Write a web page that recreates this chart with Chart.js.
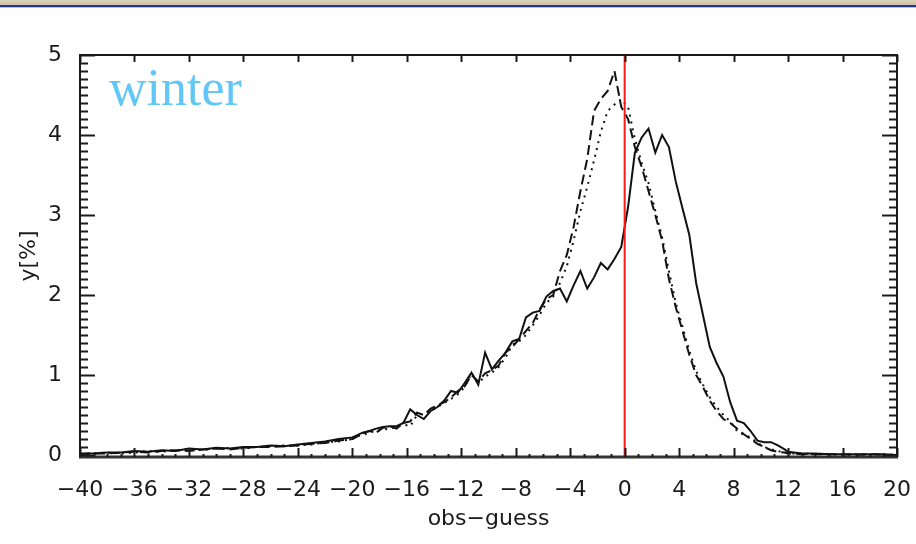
<!DOCTYPE html>
<html>
<head>
<meta charset="utf-8">
<script src="https://cdn.jsdelivr.net/npm/chart.js@4.4.1/dist/chart.umd.min.js"></script>
<style>
  html, body { margin: 0; padding: 0; background: #fff; }
  #wrap { position: relative; width: 916px; height: 544px; overflow: hidden; }
  #band { position: absolute; left: 0; top: 0; width: 916px; height: 8px;
    background: linear-gradient(to bottom, #ddd3ba 0, #cfc4a6 5px, #23359a 5px, #23359a 7px, #b8c0e4 7px, #b8c0e4 8px); }
  canvas { position: absolute; left: 0; top: 0; }
</style>
</head>
<body>
<div id="wrap">
  <canvas id="histChart" width="916" height="544"></canvas>
  <div id="band"></div>
</div>
<script>
// obs-guess bins (tails coarser than the core)
const obsGuess = [
  -40,-39,-38,-37,-36,-35,-34,-33,-32,-31,-30,-29,-28,-27,-26,-25,-24,-23,-22,-21,-20,
  -19.75,-19.25,-18.75,-18.25,-17.75,-17.25,-16.75,-16.25,-15.75,-15.25,
  -14.75,-14.25,-13.75,-13.25,-12.75,-12.25,-11.75,-11.25,-10.75,-10.25,
  -9.75,-9.25,-8.75,-8.25,-7.75,-7.25,-6.75,-6.25,-5.75,-5.25,
  -4.75,-4.25,-3.75,-3.25,-2.75,-2.25,-1.75,-1.25,-0.75,-0.25,
  0.25,0.75,1.25,1.75,2.25,2.75,3.25,3.75,4.25,4.75,
  5.25,5.75,6.25,6.75,7.25,7.75,8.25,8.75,9.25,9.75,
  10.25,10.75,11.25,11.75,
  12,13,14,15,16,17,18,19,20
];

const solidPct = [
  0.02,0.02,0.03,0.03,0.05,0.04,0.06,0.05,0.08,0.07,0.09,0.08,0.1,0.1,0.12,0.11,0.13,0.15,0.17,0.2,0.22,
  0.24,0.28,0.3,0.33,0.35,0.36,0.36,0.4,0.57,0.5,
  0.45,0.55,0.6,0.68,0.8,0.78,0.9,1.03,0.88,1.28,
  1.07,1.18,1.28,1.42,1.45,1.72,1.78,1.8,1.98,2.05,
  2.08,1.92,2.12,2.3,2.08,2.22,2.4,2.32,2.45,2.6,
  3.1,3.78,3.97,4.08,3.78,4.0,3.85,3.42,3.08,2.75,
  2.15,1.75,1.35,1.15,0.98,0.66,0.43,0.4,0.3,0.18,
  0.16,0.16,0.12,0.07,
  0.04,0.02,0.02,0.01,0.01,0.01,0.01,0.01,0.0
];

const dashedPct = [
  0.01,0.02,0.02,0.03,0.04,0.03,0.05,0.06,0.05,0.07,0.08,0.07,0.09,0.1,0.1,0.11,0.12,0.14,0.15,0.18,0.2,
  0.22,0.27,0.3,0.28,0.34,0.36,0.33,0.4,0.42,0.53,
  0.5,0.58,0.62,0.66,0.72,0.8,0.86,1.0,0.92,1.02,
  1.06,1.12,1.28,1.35,1.45,1.55,1.65,1.82,1.95,2.0,
  2.3,2.5,2.85,3.3,3.7,4.3,4.45,4.55,4.8,4.35,
  4.2,3.85,3.6,3.3,3.0,2.68,2.2,1.85,1.55,1.25,
  1.0,0.85,0.68,0.55,0.45,0.4,0.33,0.26,0.2,0.14,
  0.1,0.06,0.04,0.03,
  0.02,0.01,0.01,0.01,0.01,0.0,0.01,0.0,0.0
];

const dottedPct = [
  0.01,0.02,0.03,0.02,0.03,0.05,0.04,0.06,0.07,0.06,0.08,0.09,0.08,0.1,0.11,0.12,0.12,0.13,0.16,0.17,0.2,
  0.23,0.25,0.28,0.3,0.32,0.33,0.35,0.38,0.36,0.5,
  0.52,0.55,0.6,0.65,0.7,0.76,0.85,1.02,0.9,0.98,
  1.03,1.1,1.22,1.38,1.42,1.5,1.62,1.75,1.9,1.98,
  2.15,2.36,2.68,3.05,3.35,3.68,4.04,4.3,4.38,4.45,
  4.35,3.95,3.65,3.4,3.05,2.72,2.3,1.9,1.6,1.3,
  1.05,0.88,0.72,0.6,0.5,0.42,0.3,0.25,0.22,0.15,
  0.1,0.07,0.05,0.03,
  0.02,0.02,0.01,0.01,0.0,0.01,0.0,0.01,0.0
];

const xTicks = [-40,-36,-32,-28,-24,-20,-16,-12,-8,-4,0,4,8,12,16,20];
const yTicks = [0,1,2,3,4,5];
const xMin = -40, xMax = 20, yMin = -0.025, yMax = 5;

const toPoints = arr => obsGuess.map((x, i) => ({x: x, y: arr[i]}));
const minus = v => String(v).replace('-', '\u2212');

// frame with inward ticks on all sides, plus the season label
const framePlugin = {
  id: 'frame',
  afterDatasetsDraw(chart) {
    const {ctx, chartArea: a, scales: {x, y}} = chart;
    const line = (x1, y1, x2, y2) => { ctx.beginPath(); ctx.moveTo(x1, y1); ctx.lineTo(x2, y2); ctx.stroke(); };
    ctx.save();
    ctx.strokeStyle = '#1a1a1a';
    ctx.lineWidth = 2;
    ctx.strokeRect(a.left, a.top, a.right - a.left, a.bottom - a.top);
    ctx.lineWidth = 3;
    ctx.strokeStyle = '#333';
    line(a.left - 1, a.bottom, a.right + 1, a.bottom);

    ctx.lineWidth = 2;
    ctx.strokeStyle = '#1a1a1a';
    xTicks.forEach(v => {
      const px = Math.round(x.getPixelForValue(v)) + 0.5;
      line(px, a.bottom, px, a.bottom - 9);
      line(px, a.top, px, a.top + 7);
    });
    for (let v = xMin; v <= xMax; v += 1) {
      if (v % 4 === 0) continue;
      const px = Math.round(x.getPixelForValue(v)) + 0.5;
      line(px, a.bottom, px, a.bottom - 3);
    }
    for (let k = 0; k <= 50; k++) {
      const v = k / 10;
      const py = Math.round(y.getPixelForValue(v)) + 0.5;
      const len = k % 10 === 0 ? 15 : 8;
      line(a.left, py, a.left + len, py);
      line(a.right, py, a.right - len, py);
    }

    ctx.fillStyle = '#62c6f7';
    ctx.font = '52px "Liberation Serif", "Times New Roman", serif';
    ctx.textBaseline = 'alphabetic';
    ctx.fillText('winter', a.left + 29, 105);
    ctx.restore();
  }
};

const tickFont = {family: '"DejaVu Sans", sans-serif', size: 22};

new Chart(document.getElementById('histChart').getContext('2d'), {
  type: 'line',
  data: {
    datasets: [
      {data: [{x: 0, y: yMin}, {x: 0, y: yMax}], borderColor: '#ff1a1a', borderWidth: 2, pointRadius: 0},
      {data: toPoints(solidPct), borderColor: '#111', borderWidth: 2, pointRadius: 0},
      {data: toPoints(dashedPct), borderColor: '#111', borderWidth: 2, borderDash: [10, 5], pointRadius: 0},
      {data: toPoints(dottedPct), borderColor: '#111', borderWidth: 2, borderDash: [2, 5], pointRadius: 0}
    ]
  },
  options: {
    responsive: false,
    animation: false,
    devicePixelRatio: 1,
    layout: {padding: {top: 55, right: 19, left: 0, bottom: 0}},
    plugins: {legend: {display: false}, tooltip: {enabled: false}},
    scales: {
      x: {
        type: 'linear', min: xMin, max: xMax,
        afterBuildTicks: s => { s.ticks = xTicks.map(v => ({value: v})); },
        afterFit: s => { s.height = 87; s.paddingLeft = 0; s.paddingRight = 0; },
        grid: {display: false}, border: {display: false},
        ticks: {font: tickFont, color: '#1a1a1a', padding: 12, maxRotation: 0, autoSkip: false, callback: minus},
        title: {display: true, text: 'obs\u2212guess', font: tickFont, color: '#1a1a1a', padding: {top: 0, bottom: 12}}
      },
      y: {
        type: 'linear', min: yMin, max: yMax,
        afterBuildTicks: s => { s.ticks = yTicks.map(v => ({value: v})); },
        afterFit: s => { s.width = 80; s.paddingTop = 0; s.paddingBottom = 0; },
        grid: {display: false}, border: {display: false},
        ticks: {font: tickFont, color: '#1a1a1a', padding: 10, callback: minus},
        title: {display: true, text: 'y[%]', font: tickFont, color: '#1a1a1a', padding: {top: 16, bottom: 0}}
      }
    }
  },
  plugins: [framePlugin]
});
</script>
</body>
</html>
